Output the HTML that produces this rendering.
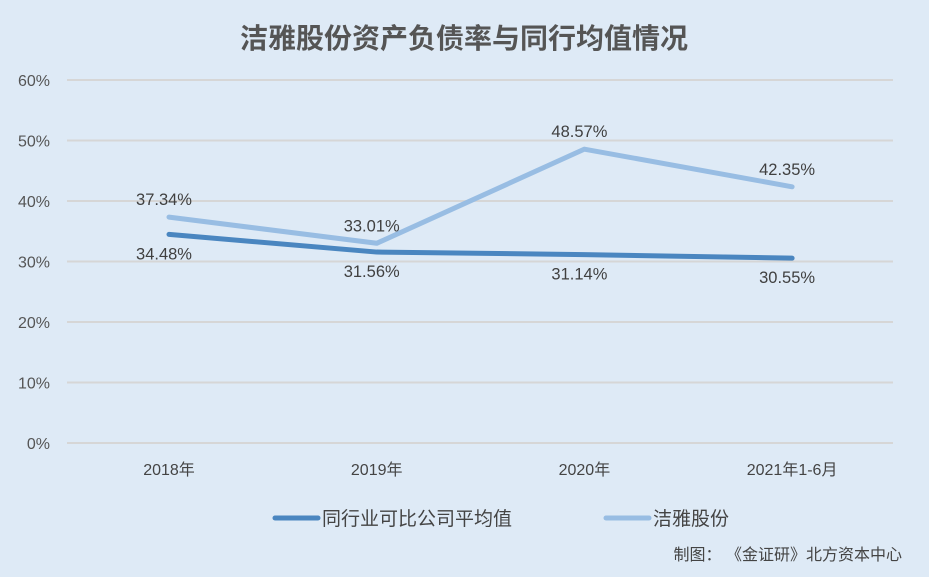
<!DOCTYPE html>
<html><head><meta charset="utf-8"><style>
body{margin:0;background:#deeaf6;}
svg{display:block;font-family:"Liberation Sans","Noto Sans CJK SC",sans-serif;}
</style></head><body>
<svg id="c" width="929" height="577">
<rect width="929" height="577" fill="#deeaf6"/>
<text x="464" y="48" text-anchor="middle" font-size="28" font-weight="bold" fill="#555">洁雅股份资产负债率与同行均值情况</text>
<g id="grid"></g><g id="series"></g><g id="labels"></g>
<g>
<line x1="275" y1="518" x2="318" y2="518" stroke="#4a86c0" stroke-width="5" stroke-linecap="round"/>
<text x="322" y="525" font-size="19" fill="#444">同行业可比公司平均值</text>
<line x1="606" y1="518" x2="649" y2="518" stroke="#98bde3" stroke-width="5" stroke-linecap="round"/>
<text x="653" y="525" font-size="19" fill="#444">洁雅股份</text>
</g>
<text x="902" y="560" text-anchor="end" font-size="16" fill="#444">制图：  《金证研》北方资本中心</text>
</svg>
<script>
const categories=["2018年","2019年","2020年","2021年1-6月"];
const industry=[34.48,31.56,31.14,30.55];
const jieya=[37.34,33.01,48.57,42.35];
const yTicks=[0,10,20,30,40,50,60];
const NS="http://www.w3.org/2000/svg";
const x=i=>169+i*207.7;
const y=v=>443-v*6.05;
function mk(t,a,p,txt){const e=document.createElementNS(NS,t);for(const k in a)e.setAttribute(k,a[k]);if(txt!==undefined)e.textContent=txt;p.appendChild(e);return e;}
const grid=document.getElementById('grid'),ser=document.getElementById('series'),lab=document.getElementById('labels');
yTicks.forEach(v=>{
 const l=mk('line',{x1:67,x2:893,y1:y(v),y2:y(v),stroke:'#d6d6d6','stroke-width':2},grid);
 
 
 const t=mk('text',{x:50,y:y(v)+6,'text-anchor':'end','font-size':16,fill:'#555'},grid,v+'%');
 
 
});
categories.forEach((c,i)=>{
 const t=mk('text',{x:x(i),y:475,'text-anchor':'middle','font-size':16,fill:'#444'},grid,c);
 
 
});
function line(data,color,name){
 const p=mk('polyline',{points:data.map((v,i)=>x(i)+','+y(v)).join(' '),fill:'none',stroke:color,'stroke-width':5,'stroke-linecap':'round','stroke-linejoin':'round'},ser);
 
 
}
line(jieya,'#98bde3','line-jieya');
line(industry,'#4a86c0','line-industry');
industry.forEach((v,i)=>{
 const t=mk('text',{x:x(i)-5,y:y(v)+25,'text-anchor':'middle','font-size':16.5,fill:'#404040'},lab,v.toFixed(2)+'%');
 
 
});
jieya.forEach((v,i)=>{
 const t=mk('text',{x:x(i)-5,y:y(v)-12,'text-anchor':'middle','font-size':16.5,fill:'#404040'},lab,v.toFixed(2)+'%');
 
 
});
</script>
</body></html>
